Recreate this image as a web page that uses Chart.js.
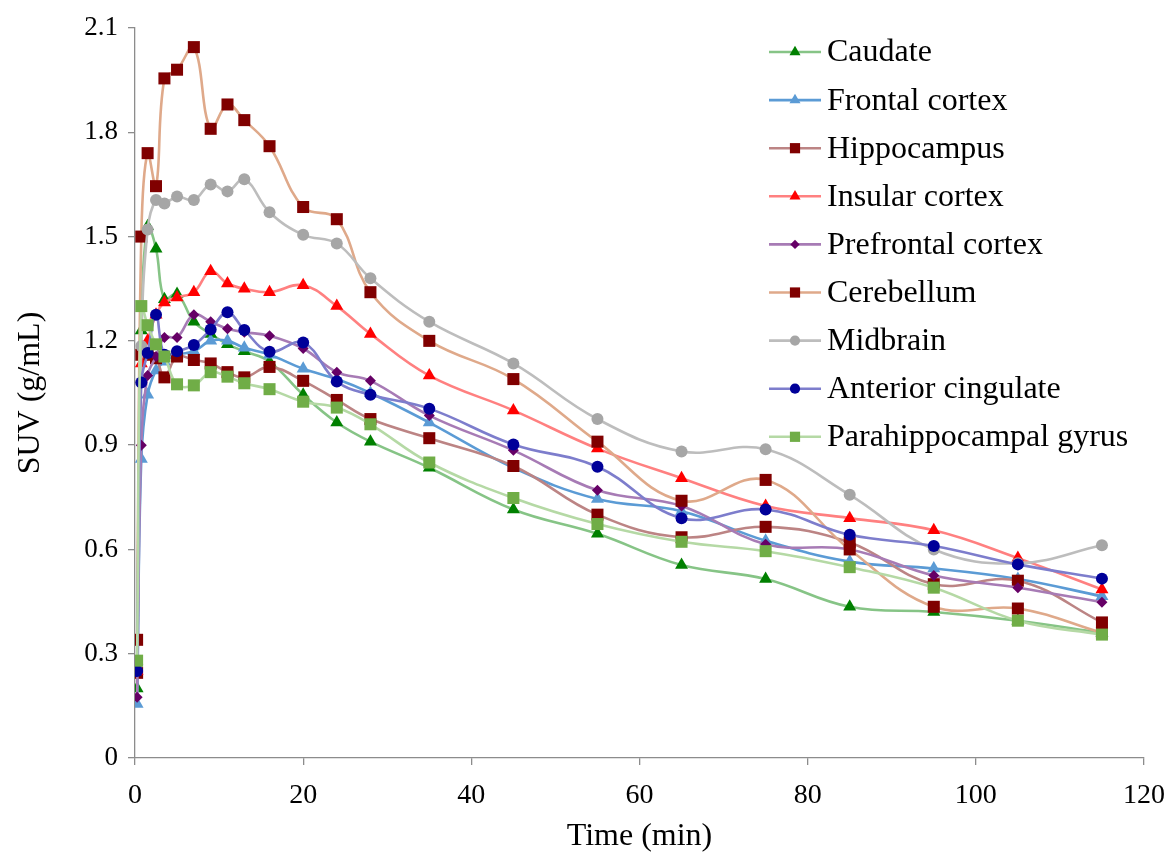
<!DOCTYPE html>
<html>
<head>
<meta charset="utf-8">
<script src="https://cdn.jsdelivr.net/npm/chart.js@4/dist/chart.umd.min.js"></script>
<style>
  html, body { margin: 0; padding: 0; background: #ffffff; }
  #wrap { width: 1173px; height: 856px; position: relative; }
</style>
</head>
<body>
<div id="wrap"><canvas id="c" width="1173" height="856"></canvas></div>
<script>
// Time points (min)
const times = [0.25, 0.75, 1.5, 2.5, 3.5, 5, 7, 9, 11, 13, 16, 20, 24, 28, 35, 45, 55, 65, 75, 85, 95, 105, 115];

// SUV (g/mL) per region
const caudate      = [0.20, 1.23, 1.53, 1.465, 1.32, 1.335, 1.255, 1.22, 1.19, 1.17, 1.14, 1.045, 0.965, 0.91, 0.835, 0.715, 0.645, 0.555, 0.515, 0.435, 0.42, 0.395, 0.36];
const frontal      = [0.155, 0.86, 1.045, 1.115, 1.14, 1.16, 1.17, 1.20, 1.20, 1.18, 1.16, 1.12, 1.09, 1.05, 0.965, 0.835, 0.745, 0.71, 0.625, 0.565, 0.545, 0.515, 0.465];
const hippocampus  = [0.245, 1.16, 1.16, 1.15, 1.095, 1.155, 1.145, 1.135, 1.11, 1.095, 1.125, 1.085, 1.03, 0.975, 0.92, 0.84, 0.70, 0.635, 0.665, 0.62, 0.50, 0.51, 0.39];
const insular      = [0.25, 1.135, 1.20, 1.275, 1.31, 1.325, 1.34, 1.40, 1.365, 1.35, 1.34, 1.36, 1.30, 1.22, 1.10, 1.00, 0.89, 0.805, 0.725, 0.69, 0.655, 0.575, 0.485];
const prefrontal   = [0.175, 0.90, 1.10, 1.155, 1.21, 1.21, 1.275, 1.255, 1.235, 1.225, 1.215, 1.178, 1.11, 1.085, 0.985, 0.885, 0.77, 0.725, 0.615, 0.60, 0.525, 0.49, 0.448];
const cerebellum   = [0.34, 1.50, 1.74, 1.645, 1.955, 1.98, 2.045, 1.81, 1.88, 1.835, 1.76, 1.585, 1.55, 1.34, 1.20, 1.09, 0.91, 0.74, 0.80, 0.60, 0.435, 0.43, 0.36];
const midbrain     = [0.27, 1.185, 1.52, 1.605, 1.595, 1.615, 1.605, 1.65, 1.63, 1.665, 1.57, 1.505, 1.48, 1.38, 1.255, 1.135, 0.975, 0.882, 0.888, 0.757, 0.60, 0.56, 0.612];
const anterior     = [0.25, 1.08, 1.165, 1.275, 1.16, 1.17, 1.188, 1.233, 1.282, 1.231, 1.169, 1.195, 1.083, 1.045, 1.005, 0.902, 0.838, 0.69, 0.715, 0.642, 0.61, 0.557, 0.516];
const parahippo    = [0.28, 1.30, 1.245, 1.19, 1.155, 1.075, 1.072, 1.11, 1.097, 1.078, 1.061, 1.025, 1.008, 0.96, 0.85, 0.748, 0.673, 0.622, 0.595, 0.549, 0.49, 0.395, 0.355];

const seriesNames = ["Caudate", "Frontal cortex", "Hippocampus", "Insular cortex", "Prefrontal cortex", "Cerebellum", "Midbrain", "Anterior cingulate", "Parahippocampal gyrus"];
const seriesData  = [caudate, frontal, hippocampus, insular, prefrontal, cerebellum, midbrain, anterior, parahippo];

// x-axis ticks 0..120 step 20, y-axis ticks 0..2.1 step 0.3
const xTicks = [0, 20, 40, 60, 80, 100, 120];
const yTicks = [0, 0.3, 0.6, 0.9, 1.2, 1.5, 1.8, 2.1];

const styles = [
  { line: '#86c486', fill: '#008000', shape: 'triangle', r: 7.5 },
  { line: '#5b9bd5', fill: '#5b9bd5', shape: 'triangle', r: 7.5 },
  { line: '#bc8484', fill: '#800000', shape: 'rect',     r: 8.5 },
  { line: '#ff8080', fill: '#ff0000', shape: 'triangle', r: 7.5 },
  { line: '#a77bb5', fill: '#660066', shape: 'rectRot',  r: 5.5 },
  { line: '#dfa98a', fill: '#800000', shape: 'rect',     r: 8.5 },
  { line: '#bdbdbd', fill: '#a6a6a6', shape: 'circle',   r: 6 },
  { line: '#7d7dcc', fill: '#000099', shape: 'circle',   r: 6 },
  { line: '#b5d9a5', fill: '#70ad47', shape: 'rect',     r: 8.5 }
];

const FONT = "'Liberation Serif', 'Times New Roman', serif";

const datasets = seriesNames.map((name, i) => ({
  label: name,
  data: times.map((t, k) => ({ x: t, y: seriesData[i][k] })),
  borderColor: styles[i].line,
  backgroundColor: styles[i].fill,
  pointBackgroundColor: styles[i].fill,
  pointBorderColor: styles[i].fill,
  pointBorderWidth: 0,
  pointStyle: styles[i].shape,
  pointRadius: styles[i].r,
  pointHoverRadius: styles[i].r,
  borderWidth: 2.6,
  tension: 0.4,
  fill: false,
  order: seriesNames.length - i
}));

const legendPlugin = {
  id: 'customLegend',
  afterDraw(chart) {
    const ctx = chart.ctx;
    const x0 = 769, x1 = 821, mx = 795, tx = 827;
    const y0 = 52, dy = 48.1;
    ctx.save();
    seriesNames.forEach((name, i) => {
      const y = y0 + i * dy;
      ctx.strokeStyle = styles[i].line;
      ctx.lineWidth = 2.6;
      ctx.beginPath();
      ctx.moveTo(x0, y);
      ctx.lineTo(x1, y);
      ctx.stroke();
      ctx.fillStyle = styles[i].fill;
      ctx.strokeStyle = styles[i].fill;
      Chart.helpers.drawPoint(ctx, { pointStyle: styles[i].shape, radius: styles[i].r * 0.85, rotation: 0, borderWidth: 0 }, mx, y);
      ctx.fillStyle = '#000000';
      ctx.font = "32px " + FONT;
      ctx.textAlign = 'left';
      ctx.textBaseline = 'middle';
      ctx.fillText(name, tx, y + 1);
    });
    ctx.restore();
  }
};

new Chart(document.getElementById('c'), {
  type: 'line',
  data: { datasets },
  options: {
    responsive: false,
    animation: false,
    events: [],
    layout: { padding: { left: 0, right: 29, top: 28, bottom: 0 } },
    plugins: { legend: { display: false }, tooltip: { enabled: false } },
    scales: {
      x: {
        type: 'linear',
        min: 0, max: 120,
        afterBuildTicks(scale) { scale.ticks = xTicks.map(v => ({ value: v })); },
        afterFit(scale) { scale.height = 98; scale.paddingLeft = 0; scale.paddingRight = 0; },
        ticks: { font: { family: FONT, size: 28 }, color: '#000', padding: 14, maxRotation: 0 },
        grid: { display: true, drawOnChartArea: false, drawTicks: true, tickLength: 7, color: '#8c8c8c', lineWidth: 1.3 },
        border: { display: true, color: '#8c8c8c', width: 1.3 },
        title: { display: true, text: 'Time (min)', font: { family: FONT, size: 32 }, color: '#000', padding: { top: 0, bottom: 0 } }
      },
      y: {
        type: 'linear',
        min: 0, max: 2.1,
        afterBuildTicks(scale) { scale.ticks = yTicks.map(v => ({ value: v })); },
        afterFit(scale) { scale.width = 135; scale.paddingTop = 0; scale.paddingBottom = 0; },
        ticks: {
          font: { family: FONT, size: 27 }, color: '#000', padding: 10,
          callback: (v) => (v === 0 ? '0' : Number(v).toFixed(1))
        },
        grid: { display: true, drawOnChartArea: false, drawTicks: true, tickLength: 7, color: '#8c8c8c', lineWidth: 1.3 },
        border: { display: true, color: '#8c8c8c', width: 1.3 },
        title: { display: true, text: 'SUV (g/mL)', font: { family: FONT, size: 32 }, color: '#000', padding: { top: 11, bottom: 0 } }
      }
    }
  },
  plugins: [legendPlugin]
});
</script>
</body>
</html>
